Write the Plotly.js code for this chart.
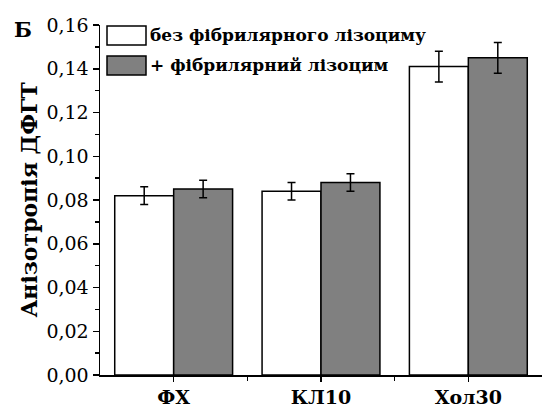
<!DOCTYPE html>
<html><head><meta charset="utf-8">
<script src="https://cdn.plot.ly/plotly-3.0.1.min.js"></script>
<style>html,body{margin:0;padding:0;background:#fff}#plot{width:542px;height:412px}</style>
</head><body><div id="plot"></div>
<script>
const categories = ['ФХ', 'КЛ10', 'Хол30'];
const seriesNames = ['без фібрилярного лізоциму', '+ фібрилярний лізоцим'];
const valuesWithout = [0.082, 0.084, 0.141];
const errorsWithout = [0.004, 0.004, 0.007];
const valuesWith = [0.085, 0.088, 0.145];
const errorsWith = [0.004, 0.004, 0.007];
const yTicks = [0, 0.02, 0.04, 0.06, 0.08, 0.10, 0.12, 0.14, 0.16];
const yTitle = 'Анізотропія ДФГТ';
const panelLabel = 'Б';

const xIdx = categories.map((c, i) => i);
const FONT = '"DejaVu Serif", "Liberation Serif", serif';
const fills = ['#ffffff', '#808080'];

const traces = [
  {type: 'bar', x: xIdx, y: valuesWithout, name: seriesNames[0],
   marker: {color: fills[0], line: {color: '#000', width: 1.5}},
   error_y: {type: 'data', array: errorsWithout, visible: true, color: '#000', thickness: 1.5, width: 4}},
  {type: 'bar', x: xIdx, y: valuesWith, name: seriesNames[1],
   marker: {color: fills[1], line: {color: '#000', width: 1.5}},
   error_y: {type: 'data', array: errorsWith, visible: true, color: '#000', thickness: 1.5, width: 4}}
];

const W = 542, H = 412, L = 100, R = 0, T = 25, B = 37;
const pw = W - L - R, ph = H - T - B;
const toPaperY = py => 1 - (py - T) / ph;
const toPaperX = px => (px - L) / pw;

const shapes = [];
const annotations = [];
const legendY = [[26, 45], [56, 75]];
seriesNames.forEach((n, i) => {
  shapes.push({type: 'rect', xref: 'paper', yref: 'paper',
    x0: toPaperX(107), x1: toPaperX(146), y0: toPaperY(legendY[i][1]), y1: toPaperY(legendY[i][0]),
    fillcolor: fills[i], line: {color: '#000', width: 1.5}});
  annotations.push({xref: 'paper', yref: 'paper', x: toPaperX(148), y: toPaperY((legendY[i][0] + legendY[i][1]) / 2 - 1),
    xanchor: 'left', yanchor: 'middle', text: '<b>' + n + '</b>', showarrow: false,
    font: {family: FONT, size: 17, color: '#000'}});
});
annotations.push({xref: 'paper', yref: 'paper', x: toPaperX(12), y: toPaperY(30), xanchor: 'left', yanchor: 'middle',
  text: '<b>' + panelLabel + '</b>', showarrow: false, font: {family: FONT, size: 21, color: '#000'}});

const layout = {
  width: W, height: H,
  margin: {l: L, r: R, t: T, b: B, pad: 0},
  paper_bgcolor: '#fff', plot_bgcolor: '#fff',
  separators: ', ',
  showlegend: false,
  barmode: 'group', bargap: 0.2, bargroupgap: 0,
  font: {family: FONT, color: '#000'},
  xaxis: {range: [-0.5, 2.5], tickvals: xIdx, ticktext: categories.map(c => '<b>' + c + '</b>'),
    showgrid: false, zeroline: false, showline: true, linecolor: '#000', linewidth: 1.5,
    ticks: 'outside', ticklen: 5, tickwidth: 1.5, tickcolor: '#000',
    tickfont: {family: FONT, size: 19, color: '#000'},
    minor: {tickvals: [0.5, 1.5], ticks: 'outside', ticklen: 4, tickwidth: 1.5, tickcolor: '#000'}},
  yaxis: {range: [0, 0.16], tickvals: yTicks, tickformat: '.2f',
    showgrid: false, zeroline: false, showline: true, linecolor: '#000', linewidth: 1.5,
    ticks: 'outside', ticklen: 6, tickwidth: 1.5, tickcolor: '#000',
    tickfont: {family: FONT, size: 19, color: '#000'},
    minor: {dtick: 0.01, ticks: 'outside', ticklen: 4, tickwidth: 1.5, tickcolor: '#000'},
    title: {text: '<b>' + yTitle + '</b>', font: {family: FONT, size: 22, color: '#000'}, standoff: 2}},
  shapes: shapes, annotations: annotations
};

Plotly.newPlot('plot', traces, layout, {staticPlot: true, displayModeBar: false});
</script></body></html>
